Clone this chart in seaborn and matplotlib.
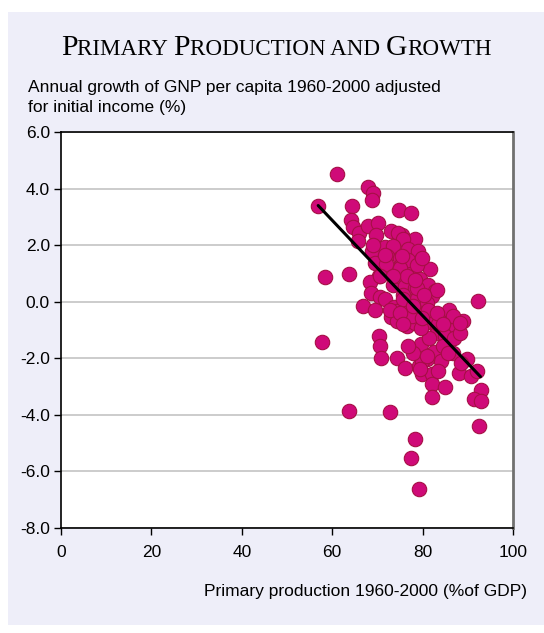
import numpy as np
import pandas as pd
import matplotlib
matplotlib.use("Agg")
import matplotlib.pyplot as plt
from matplotlib.patches import Rectangle
import seaborn as sns

# ---------------- data ----------------
primary_production = [
    56.9, 61.0, 64.4, 68.0, 69.0, 68.7, 74.8, 77.5, 64.1, 64.6,
    66.0, 65.6, 68.0, 70.2, 69.8, 72.9, 75.5, 78.4, 74.6, 75.7,
    68.7, 71.7, 73.4, 76.8, 79.0, 72.2, 75.0, 69.5, 71.8, 75.2,
    77.5, 79.6, 81.6, 70.3, 79.5, 68.3, 68.6, 70.5, 71.7, 73.5,
    74.6, 76.2, 78.3, 81.1, 82.8, 80.9, 82.0, 78.7, 92.3, 58.4,
    63.8, 57.8, 66.8, 69.5, 73.6, 74.3, 77.2, 80.9, 73.0, 74.3,
    76.5, 78.3, 80.5, 80.9, 83.1, 83.1, 83.8, 85.0, 85.8, 89.0,
    87.4, 70.4, 70.6, 70.9, 74.4, 76.1, 79.6, 81.4, 82.6, 84.0,
    85.0, 87.0, 86.8, 89.8, 80.9, 79.1, 79.8, 82.0, 82.0, 82.1,
    84.9, 88.1, 90.7, 92.1, 93.0, 91.4, 93.0, 92.5, 63.8, 72.8,
    78.3, 77.4, 79.1, 79.8, 79.4,
    76.8, 78.7, 75.0, 78.7, 75.7, 77.6, 79.6, 83.5, 88.3, 84.6,
    85.7, 88.6, 77.9, 76.8, 80.9, 83.5,
    69.1, 71.7, 75.4, 79.8, 70.6, 76.5, 73.5, 78.3, 83.1, 80.2,
    75.7, 77.9, 72.8, 75.0, 81.2, 83.1, 79.8, 86.8, 88.3, 84.6,
    75.7,
]
growth = [
    3.37, 4.52, 3.40, 4.07, 3.84, 3.60, 3.23, 3.12, 2.90, 2.65,
    2.43, 2.13, 2.66, 2.78, 2.36, 2.51, 2.37, 2.21, 2.43, 2.20,
    1.80, 1.95, 1.97, 1.87, 1.78, 1.60, 1.55, 1.38, 1.33, 1.30,
    1.16, 1.49, 1.14, 0.90, 0.80, 0.68, 0.32, 0.17, 0.08, 0.58,
    0.90, 0.55, 0.50, 0.60, 0.39, 0.15, 0.19, 0.08, 0.01, 0.86,
    0.97, -1.42, -0.15, -0.29, -0.19, -0.33, -0.22, -0.04, -0.53, -0.67,
    -0.85, -0.75, -0.39, -0.73, -0.95, -1.12, -0.51, -0.57, -0.28, -0.67,
    -0.92, -1.20, -1.57, -2.00, -1.98, -2.35, -1.51, -1.27, -1.78, -2.10,
    -1.22, -1.27, -1.80, -2.04, -2.04, -2.27, -2.55, -2.57, -2.90, -3.36,
    -3.00, -2.51, -2.62, -2.45, -3.11, -3.44, -3.51, -4.41, -3.86, -3.90,
    -4.84, -5.54, -6.63, -2.10, -2.39,
    1.49, 1.31, 1.19, 0.49, 0.25, -0.51, -0.92, -0.80, -1.10, -1.57,
    -1.80, -2.15, -1.80, -1.57, -1.92, -2.45,
    2.02, 1.66, 1.60, 1.55, 0.90, 0.90, 0.90, 0.78, 0.43, 0.25,
    0.08, -0.16, -0.28, -0.39, -0.28, -0.39, -0.57, -0.51, -0.75, -0.80,
    -0.80,
]
trend_x = [56.9, 92.8]
trend_y = [3.40, -2.65]

x_ticks = [0, 20, 40, 60, 80, 100]
y_ticks = [-8.0, -6.0, -4.0, -2.0, 0.0, 2.0, 4.0, 6.0]

title_parts = [("P", True), ("RIMARY ", False), ("P", True),
               ("RODUCTION AND ", False), ("G", True), ("ROWTH", False)]
y_label = "Annual growth of GNP per capita 1960-2000 adjusted\nfor initial income (%)"
x_label = "Primary production 1960-2000 (%of GDP)"

df = pd.DataFrame({"x": primary_production, "y": growth})
trend = pd.DataFrame({"x": trend_x, "y": trend_y})

# ---------------- figure ----------------
sns.set_theme(style="white")
plt.rcParams["font.family"] = ["Liberation Sans", "DejaVu Sans"]

W, H = 544, 633
fig = plt.figure(figsize=(W / 100, H / 100), dpi=100)
fig.patch.set_facecolor("white")
bg = Rectangle((8 / W, 8 / H), (W - 8) / W, (H - 20) / H,
               transform=fig.transFigure, facecolor="#EEEEF9",
               edgecolor="none", zorder=-10)
fig.add_artist(bg)

ax = fig.add_axes([61 / W, (H - 528) / H, 452 / W, 396 / H])
ax.set_zorder(1)
ax.set_facecolor("white")

sns.scatterplot(data=df, x="x", y="y", ax=ax, s=108, color="#CF0A78",
                edgecolor="#A60F45", linewidth=0.8, zorder=3, legend=False)
sns.lineplot(data=trend, x="x", y="y", ax=ax, color="black", linewidth=2.2,
             zorder=4, legend=False)

ax.set_xlim(0, 100)
ax.set_ylim(-8, 6)
ax.set_xticks(x_ticks)
ax.set_xticklabels([str(t) for t in x_ticks])
ax.set_yticks(y_ticks)
ax.set_yticklabels([f"{t:.1f}" for t in y_ticks])
ax.yaxis.grid(True, color="#C8C8C8", linewidth=1.3)
ax.xaxis.grid(False)
ax.set_axisbelow(True)
ax.tick_params(axis="both", which="major", direction="out", length=5,
               width=1, color="black", labelsize=12.5, labelcolor="black",
               left=True, bottom=True, pad=3)
ax.tick_params(axis="x", pad=7)
ax.set_xlabel("")
ax.set_ylabel("")
for side in ["left", "bottom", "top"]:
    ax.spines[side].set_color("black")
    ax.spines[side].set_linewidth(1.2)
ax.spines["right"].set_color("#707070")
ax.spines["right"].set_linewidth(2.0)

# axis labels
fig.text(28 / W, 1 - 80 / H, y_label, ha="left", va="top", fontsize=12.5,
         color="black", linespacing=1.4)
fig.text(527 / W, 1 - 596 / H, x_label, ha="right", va="baseline",
         fontsize=12.5, color="black")

# small-caps title
fig.canvas.draw()
renderer = fig.canvas.get_renderer()
texts = []
widths = []
for s, big in title_parts:
    t = fig.text(0, 0, s, fontsize=21.4 if big else 16.6,
                 family=["Liberation Serif", "DejaVu Serif"], color="black",
                 ha="left", va="baseline")
    bb = t.get_window_extent(renderer=renderer)
    texts.append(t)
    widths.append(bb.width)
total = sum(widths)
cx = 276
x0 = cx - total / 2
base_y = 1 - 55 / H
for t, w in zip(texts, widths):
    t.set_position((x0 / W, base_y))
    x0 += w

fig.savefig("out.png", dpi=100, facecolor=fig.get_facecolor())
